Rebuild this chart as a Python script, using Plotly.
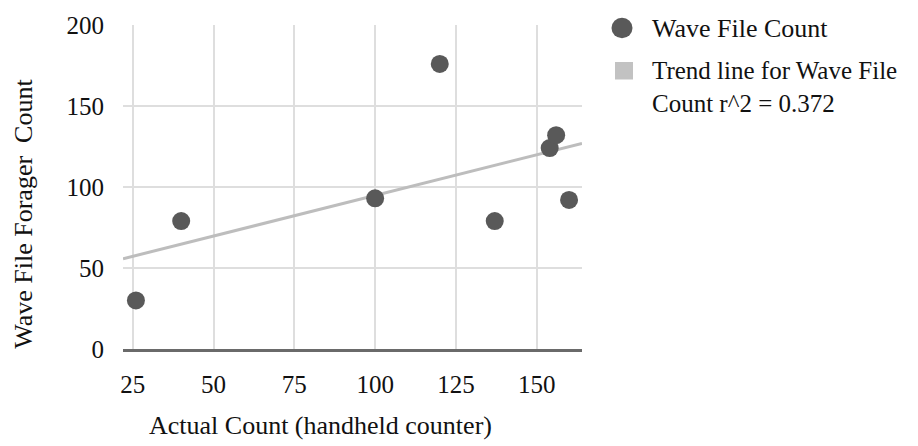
import numpy as np
import plotly.graph_objects as go

# Handheld counter totals vs. counts taken from the wave files
actual_count = [26, 40, 100, 120, 137, 154, 156, 160]
wave_file_count = [30, 79, 93, 176, 79, 124, 132, 92]

x_ticks = [25, 50, 75, 100, 125, 150]
y_ticks = [0, 50, 100, 150, 200]
x_range = [22, 164]
y_range = [0, 200]

series_name = "Wave File Count"
trend_label = "Trend line for Wave File<br>Count r^2 = 0.372"
x_title = "Actual Count (handheld counter)"
y_title = "Wave File Forager\u00a0 Count"

FONT = "Liberation Serif"
W, H = 918, 446
L, R, T, B = 123, 336, 16, 97
PW, PH = W - L - R, H - T - B

def px(xp):
    return (xp - L) / PW

def py(yp):
    return 1 - (yp - T) / PH

# Least-squares trend line across the visible x range
slope, intercept = np.polyfit(actual_count, wave_file_count, 1)
trend_x = np.array(x_range, dtype=float)
trend_y = slope * trend_x + intercept

fig = go.Figure()
fig.add_trace(go.Scatter(
    x=trend_x, y=trend_y, mode="lines",
    line=dict(color="#bdbdbd", width=3),
    showlegend=False, hoverinfo="skip",
))
fig.add_trace(go.Scatter(
    x=actual_count, y=wave_file_count, mode="markers",
    marker=dict(color="#595959", size=18, line=dict(width=0)),
    name=series_name, showlegend=False,
))

fig.update_layout(
    width=W, height=H,
    margin=dict(l=L, r=R, t=T, b=B, pad=0),
    paper_bgcolor="white", plot_bgcolor="white",
    font=dict(family=FONT, size=25, color="#111111"),
    showlegend=False,
)
fig.update_xaxes(
    range=x_range, tickvals=x_ticks, ticks="", ticklabelstandoff=11,
    showgrid=True, gridcolor="#dedede", gridwidth=2,
    zeroline=False, showline=True, linecolor="#6a6a6a", linewidth=2.5,
    tickfont=dict(family=FONT, size=25, color="#111111"),
)
fig.update_yaxes(
    range=y_range, tickvals=y_ticks, ticks="", ticklabelstandoff=18,
    showgrid=True, gridcolor="#dedede", gridwidth=2,
    zeroline=False, showline=False,
    tickfont=dict(family=FONT, size=25, color="#111111"),
)

# Axis titles
fig.add_annotation(
    x=px(320), y=py(428), xref="paper", yref="paper",
    text=x_title, showarrow=False, xanchor="center", yanchor="middle",
    font=dict(family=FONT, size=26, color="#111111"),
)
fig.add_annotation(
    x=px(24), y=py(210), xref="paper", yref="paper",
    text=y_title, showarrow=False, textangle=-90,
    xanchor="center", yanchor="middle",
    font=dict(family=FONT, size=26, color="#111111"),
)

# Legend keys and labels
fig.add_shape(
    type="circle", xref="paper", yref="paper",
    x0=px(611.5), x1=px(632.5), y0=py(29.5), y1=py(8.5),
    fillcolor="#595959", line=dict(width=0),
)
fig.add_shape(
    type="rect", xref="paper", yref="paper",
    x0=px(615), x1=px(633), y0=py(72), y1=py(54),
    fillcolor="#c2c2c2", line=dict(width=0),
)
fig.add_annotation(
    x=px(650), y=py(20), xref="paper", yref="paper",
    text=series_name, showarrow=False, xanchor="left", yanchor="middle",
    font=dict(family=FONT, size=26, color="#111111"),
)
fig.add_annotation(
    x=px(650), y=py(47), xref="paper", yref="paper",
    text=trend_label, showarrow=False, xanchor="left", yanchor="top",
    align="left",
    font=dict(family=FONT, size=25, color="#111111"),
)

fig.write_html("out.html")
